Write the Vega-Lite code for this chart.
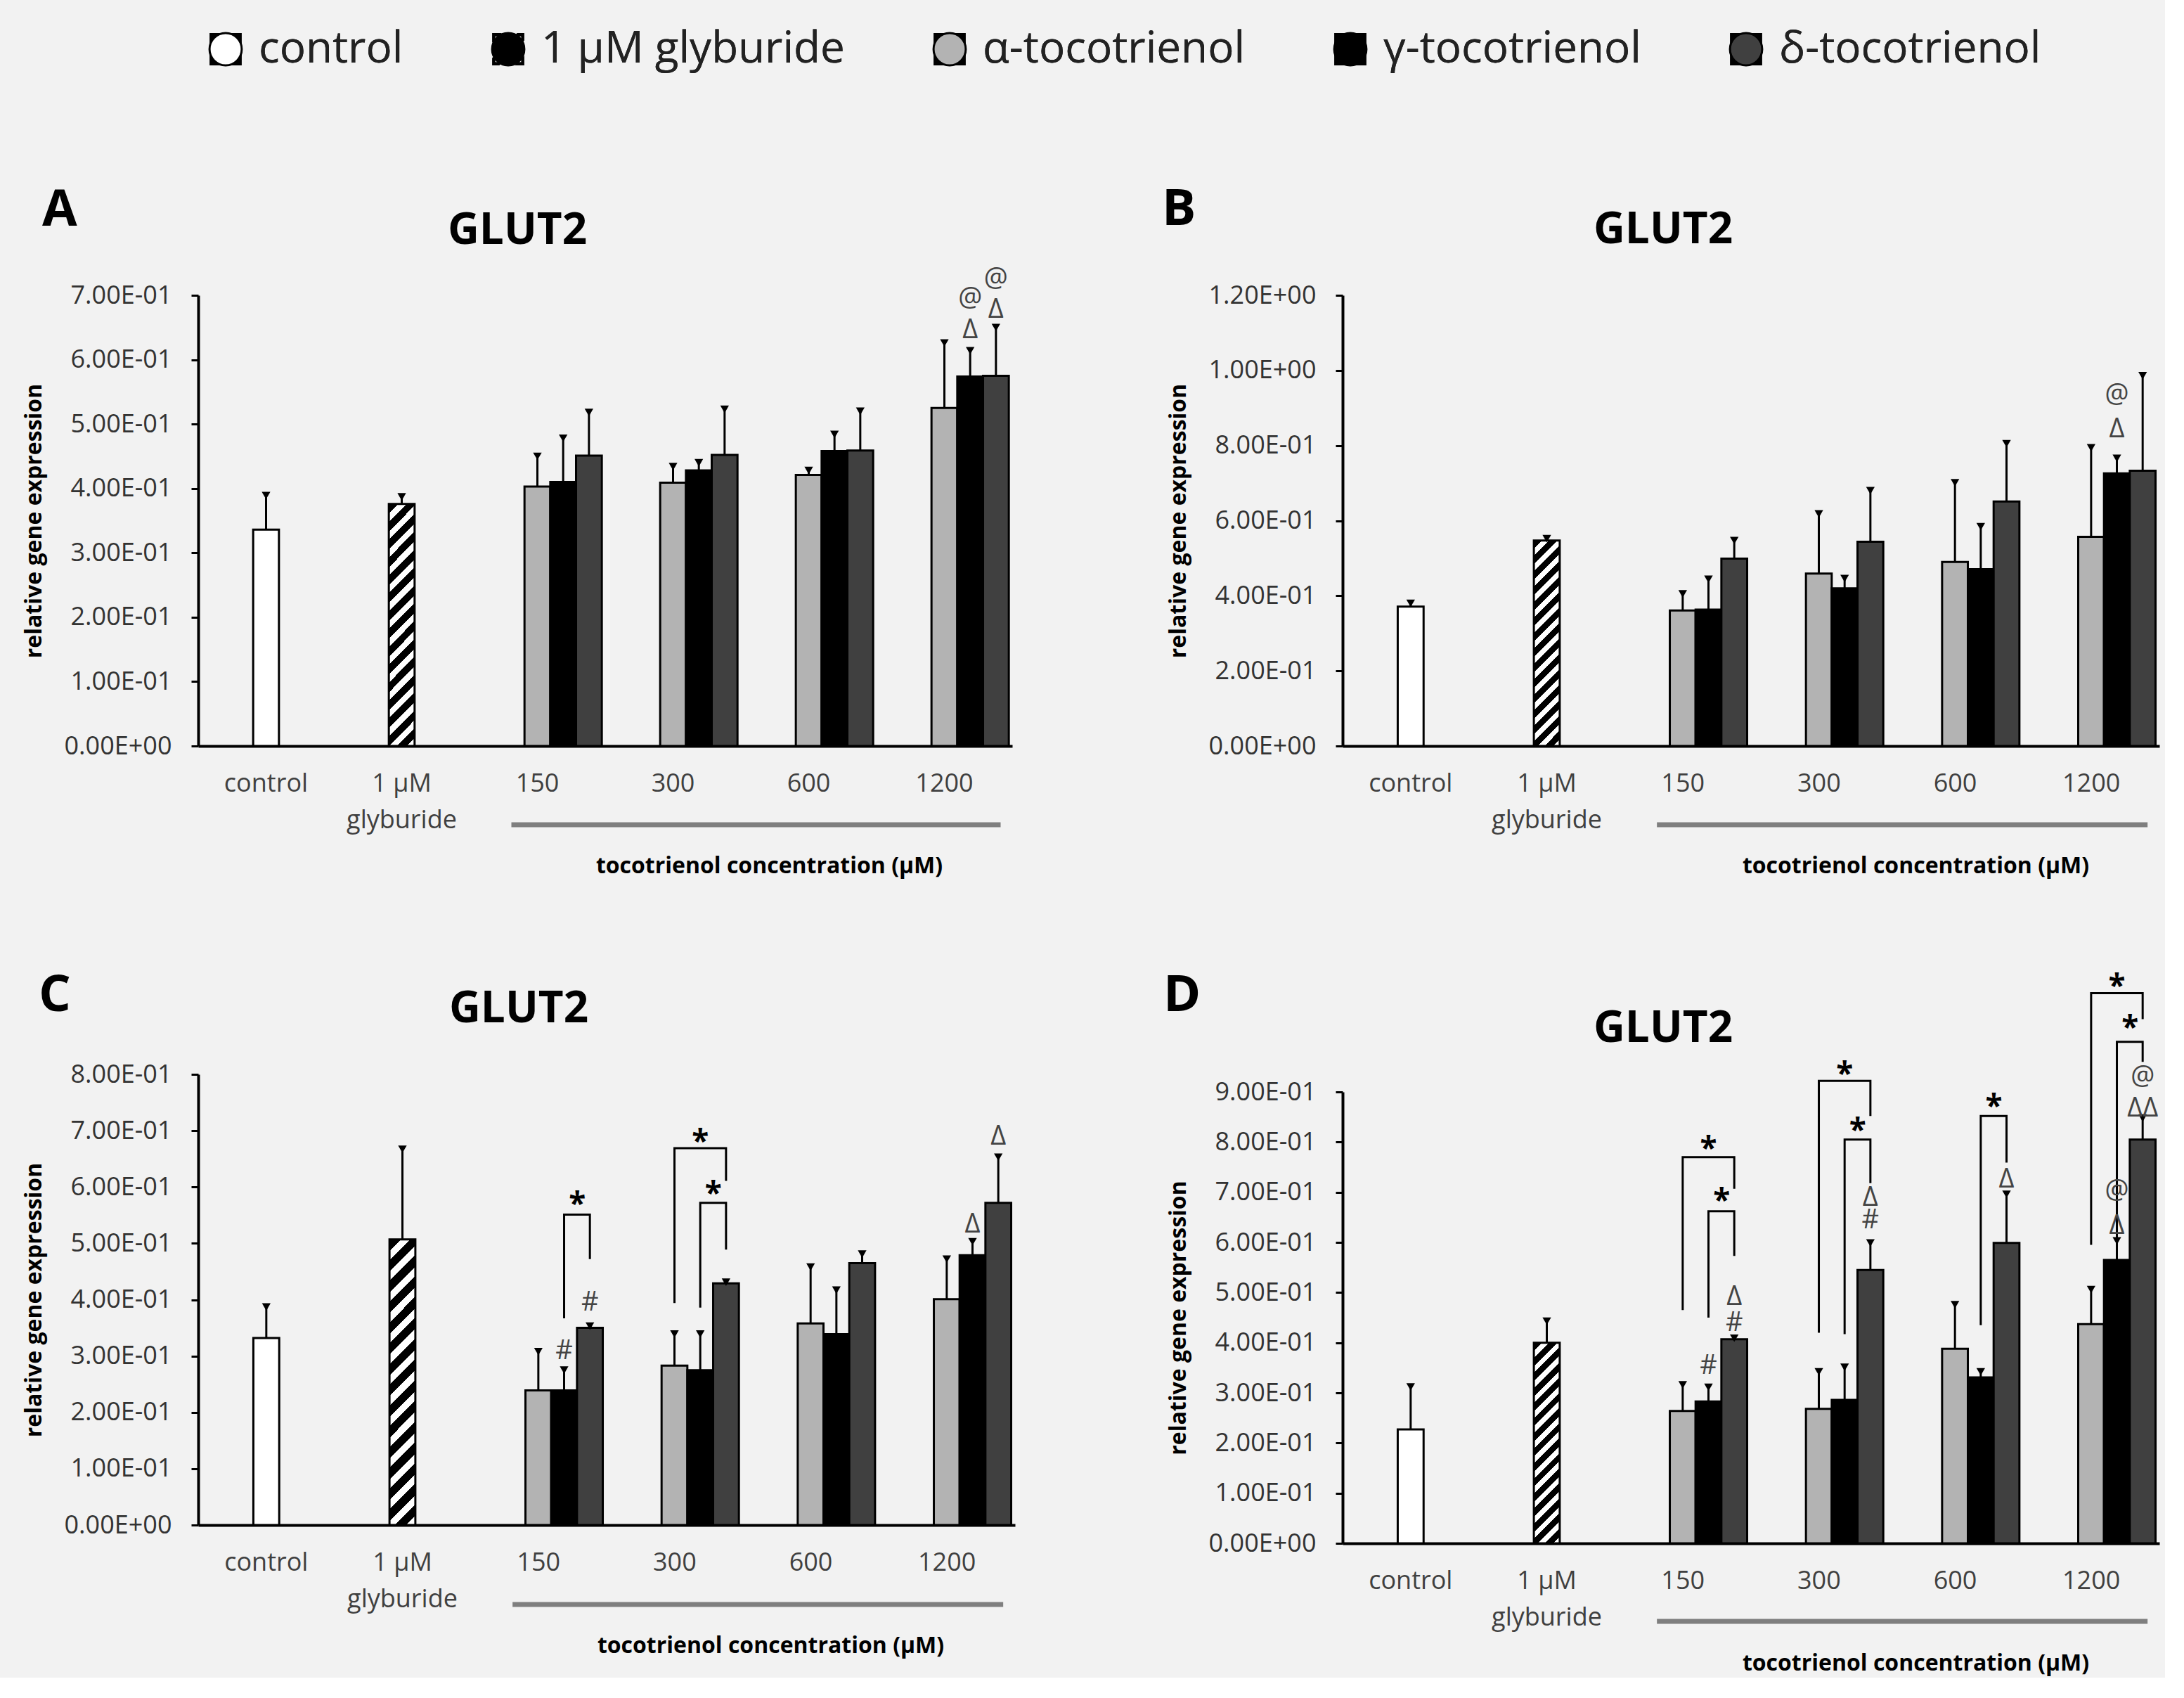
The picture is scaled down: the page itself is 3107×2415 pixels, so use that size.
{
"$schema": "https://vega.github.io/schema/vega-lite/v6.json",
"background": "#f2f2f2",
"padding": {"left": 32, "top": 39, "right": 8, "bottom": 5},
"config": {
  "font": "Open Sans",
  "view": {"stroke": null},
  "title": {"font": "Open Sans", "fontWeight": "bold", "color": "black"},
  "axisX": {"domainColor": "black", "domainWidth": 4, "ticks": false, "labelAngle": 0, "labelFont": "Open Sans", "labelFontSize": 36, "labelColor": "#404040", "labelPadding": 36, "labelLineHeight": 52, "titleFont": "Open Sans", "titleFontSize": 32, "titleFontWeight": "bold", "titleColor": "black", "grid": false},
  "axisY": {"domainColor": "black", "domainWidth": 4, "ticks": true, "tickColor": "black", "tickWidth": 3, "tickSize": 10, "labelFont": "Open Sans", "labelFontSize": 36, "labelColor": "#333333", "labelPadding": 28, "titleFont": "Open Sans", "titleFontSize": 32, "titleFontWeight": "bold", "titleColor": "black", "titlePadding": 26, "grid": false}
},
"datasets": {
  "bars": [
    {"panel":"A","cat":"control","series":"control","v":0.336,"e":0.389},
    {"panel":"A","cat":"1 µM glyburide","series":"1 µM glyburide","v":0.376,"e":0.387},
    {"panel":"A","cat":"150","series":"α-tocotrienol","v":0.403,"e":0.450},
    {"panel":"A","cat":"150","series":"γ-tocotrienol","v":0.410,"e":0.478},
    {"panel":"A","cat":"150","series":"δ-tocotrienol","v":0.451,"e":0.518},
    {"panel":"A","cat":"300","series":"α-tocotrienol","v":0.409,"e":0.434},
    {"panel":"A","cat":"300","series":"γ-tocotrienol","v":0.428,"e":0.440},
    {"panel":"A","cat":"300","series":"δ-tocotrienol","v":0.452,"e":0.523},
    {"panel":"A","cat":"600","series":"α-tocotrienol","v":0.421,"e":0.428},
    {"panel":"A","cat":"600","series":"γ-tocotrienol","v":0.458,"e":0.484},
    {"panel":"A","cat":"600","series":"δ-tocotrienol","v":0.459,"e":0.520},
    {"panel":"A","cat":"1200","series":"α-tocotrienol","v":0.525,"e":0.626},
    {"panel":"A","cat":"1200","series":"γ-tocotrienol","v":0.574,"e":0.614},
    {"panel":"A","cat":"1200","series":"δ-tocotrienol","v":0.575,"e":0.650},
    {"panel":"B","cat":"control","series":"control","v":0.371,"e":0.380},
    {"panel":"B","cat":"1 µM glyburide","series":"1 µM glyburide","v":0.547,"e":0.552},
    {"panel":"B","cat":"150","series":"α-tocotrienol","v":0.361,"e":0.405},
    {"panel":"B","cat":"150","series":"γ-tocotrienol","v":0.363,"e":0.444},
    {"panel":"B","cat":"150","series":"δ-tocotrienol","v":0.499,"e":0.547},
    {"panel":"B","cat":"300","series":"α-tocotrienol","v":0.459,"e":0.618},
    {"panel":"B","cat":"300","series":"γ-tocotrienol","v":0.420,"e":0.446},
    {"panel":"B","cat":"300","series":"δ-tocotrienol","v":0.544,"e":0.680},
    {"panel":"B","cat":"600","series":"α-tocotrienol","v":0.490,"e":0.701},
    {"panel":"B","cat":"600","series":"γ-tocotrienol","v":0.471,"e":0.584},
    {"panel":"B","cat":"600","series":"δ-tocotrienol","v":0.651,"e":0.805},
    {"panel":"B","cat":"1200","series":"α-tocotrienol","v":0.557,"e":0.794},
    {"panel":"B","cat":"1200","series":"γ-tocotrienol","v":0.726,"e":0.766},
    {"panel":"B","cat":"1200","series":"δ-tocotrienol","v":0.733,"e":0.986},
    {"panel":"C","cat":"control","series":"control","v":0.332,"e":0.387},
    {"panel":"C","cat":"1 µM glyburide","series":"1 µM glyburide","v":0.507,"e":0.667},
    {"panel":"C","cat":"150","series":"α-tocotrienol","v":0.239,"e":0.308},
    {"panel":"C","cat":"150","series":"γ-tocotrienol","v":0.239,"e":0.275},
    {"panel":"C","cat":"150","series":"δ-tocotrienol","v":0.350,"e":0.353},
    {"panel":"C","cat":"300","series":"α-tocotrienol","v":0.283,"e":0.339},
    {"panel":"C","cat":"300","series":"γ-tocotrienol","v":0.275,"e":0.339},
    {"panel":"C","cat":"300","series":"δ-tocotrienol","v":0.429,"e":0.431},
    {"panel":"C","cat":"600","series":"α-tocotrienol","v":0.358,"e":0.458},
    {"panel":"C","cat":"600","series":"γ-tocotrienol","v":0.339,"e":0.417},
    {"panel":"C","cat":"600","series":"δ-tocotrienol","v":0.465,"e":0.481},
    {"panel":"C","cat":"1200","series":"α-tocotrienol","v":0.401,"e":0.472},
    {"panel":"C","cat":"1200","series":"γ-tocotrienol","v":0.479,"e":0.503},
    {"panel":"C","cat":"1200","series":"δ-tocotrienol","v":0.572,"e":0.653},
    {"panel":"D","cat":"control","series":"control","v":0.227,"e":0.312},
    {"panel":"D","cat":"1 µM glyburide","series":"1 µM glyburide","v":0.400,"e":0.443},
    {"panel":"D","cat":"150","series":"α-tocotrienol","v":0.264,"e":0.316},
    {"panel":"D","cat":"150","series":"γ-tocotrienol","v":0.283,"e":0.311},
    {"panel":"D","cat":"150","series":"δ-tocotrienol","v":0.407,"e":0.409},
    {"panel":"D","cat":"300","series":"α-tocotrienol","v":0.268,"e":0.342},
    {"panel":"D","cat":"300","series":"γ-tocotrienol","v":0.286,"e":0.351},
    {"panel":"D","cat":"300","series":"δ-tocotrienol","v":0.545,"e":0.599},
    {"panel":"D","cat":"600","series":"α-tocotrienol","v":0.388,"e":0.476},
    {"panel":"D","cat":"600","series":"γ-tocotrienol","v":0.331,"e":0.342},
    {"panel":"D","cat":"600","series":"δ-tocotrienol","v":0.599,"e":0.696},
    {"panel":"D","cat":"1200","series":"α-tocotrienol","v":0.437,"e":0.506},
    {"panel":"D","cat":"1200","series":"γ-tocotrienol","v":0.565,"e":0.603},
    {"panel":"D","cat":"1200","series":"δ-tocotrienol","v":0.805,"e":0.848}
  ],
  "ann": [
    {"panel":"A","cat":"1200","series":"γ-tocotrienol","y":0.645,"t":"Δ"},
    {"panel":"A","cat":"1200","series":"γ-tocotrienol","y":0.694,"t":"@"},
    {"panel":"A","cat":"1200","series":"δ-tocotrienol","y":0.677,"t":"Δ"},
    {"panel":"A","cat":"1200","series":"δ-tocotrienol","y":0.725,"t":"@"},
    {"panel":"B","cat":"1200","series":"γ-tocotrienol","y":0.843,"t":"Δ"},
    {"panel":"B","cat":"1200","series":"γ-tocotrienol","y":0.935,"t":"@"},
    {"panel":"C","cat":"150","series":"γ-tocotrienol","y":0.308,"t":"#"},
    {"panel":"C","cat":"150","series":"δ-tocotrienol","y":0.394,"t":"#"},
    {"panel":"C","cat":"1200","series":"γ-tocotrienol","y":0.533,"t":"Δ"},
    {"panel":"C","cat":"1200","series":"δ-tocotrienol","y":0.689,"t":"Δ"},
    {"panel":"D","cat":"150","series":"γ-tocotrienol","y":0.353,"t":"#"},
    {"panel":"D","cat":"150","series":"δ-tocotrienol","y":0.439,"t":"#"},
    {"panel":"D","cat":"150","series":"δ-tocotrienol","y":0.491,"t":"Δ"},
    {"panel":"D","cat":"300","series":"δ-tocotrienol","y":0.643,"t":"#"},
    {"panel":"D","cat":"300","series":"δ-tocotrienol","y":0.688,"t":"Δ"},
    {"panel":"D","cat":"600","series":"δ-tocotrienol","y":0.725,"t":"Δ"},
    {"panel":"D","cat":"1200","series":"γ-tocotrienol","y":0.632,"t":"Δ"},
    {"panel":"D","cat":"1200","series":"γ-tocotrienol","y":0.703,"t":"@"},
    {"panel":"D","cat":"1200","series":"δ-tocotrienol","y":0.867,"t":"ΔΔ"},
    {"panel":"D","cat":"1200","series":"δ-tocotrienol","y":0.930,"t":"@"}
  ],
  "brk": [
    {"panel":"C","id":"c1","cat":"150","series":"γ-tocotrienol","y":0.367,"ord":1},
    {"panel":"C","id":"c1","cat":"150","series":"γ-tocotrienol","y":0.551,"ord":2},
    {"panel":"C","id":"c1","cat":"150","series":"δ-tocotrienol","y":0.551,"ord":3},
    {"panel":"C","id":"c1","cat":"150","series":"δ-tocotrienol","y":0.472,"ord":4},
    {"panel":"C","id":"c2","cat":"300","series":"α-tocotrienol","y":0.394,"ord":1},
    {"panel":"C","id":"c2","cat":"300","series":"α-tocotrienol","y":0.669,"ord":2},
    {"panel":"C","id":"c2","cat":"300","series":"δ-tocotrienol","y":0.669,"ord":3},
    {"panel":"C","id":"c2","cat":"300","series":"δ-tocotrienol","y":0.611,"ord":4},
    {"panel":"C","id":"c3","cat":"300","series":"γ-tocotrienol","y":0.386,"ord":1},
    {"panel":"C","id":"c3","cat":"300","series":"γ-tocotrienol","y":0.572,"ord":2},
    {"panel":"C","id":"c3","cat":"300","series":"δ-tocotrienol","y":0.572,"ord":3},
    {"panel":"C","id":"c3","cat":"300","series":"δ-tocotrienol","y":0.489,"ord":4},
    {"panel":"D","id":"d1","cat":"150","series":"α-tocotrienol","y":0.465,"ord":1},
    {"panel":"D","id":"d1","cat":"150","series":"α-tocotrienol","y":0.770,"ord":2},
    {"panel":"D","id":"d1","cat":"150","series":"δ-tocotrienol","y":0.770,"ord":3},
    {"panel":"D","id":"d1","cat":"150","series":"δ-tocotrienol","y":0.707,"ord":4},
    {"panel":"D","id":"d2","cat":"150","series":"γ-tocotrienol","y":0.450,"ord":1},
    {"panel":"D","id":"d2","cat":"150","series":"γ-tocotrienol","y":0.662,"ord":2},
    {"panel":"D","id":"d2","cat":"150","series":"δ-tocotrienol","y":0.662,"ord":3},
    {"panel":"D","id":"d2","cat":"150","series":"δ-tocotrienol","y":0.573,"ord":4},
    {"panel":"D","id":"d3","cat":"300","series":"α-tocotrienol","y":0.420,"ord":1},
    {"panel":"D","id":"d3","cat":"300","series":"α-tocotrienol","y":0.922,"ord":2},
    {"panel":"D","id":"d3","cat":"300","series":"δ-tocotrienol","y":0.922,"ord":3},
    {"panel":"D","id":"d3","cat":"300","series":"δ-tocotrienol","y":0.852,"ord":4},
    {"panel":"D","id":"d4","cat":"300","series":"γ-tocotrienol","y":0.417,"ord":1},
    {"panel":"D","id":"d4","cat":"300","series":"γ-tocotrienol","y":0.805,"ord":2},
    {"panel":"D","id":"d4","cat":"300","series":"δ-tocotrienol","y":0.805,"ord":3},
    {"panel":"D","id":"d4","cat":"300","series":"δ-tocotrienol","y":0.718,"ord":4},
    {"panel":"D","id":"d5","cat":"600","series":"γ-tocotrienol","y":0.435,"ord":1},
    {"panel":"D","id":"d5","cat":"600","series":"γ-tocotrienol","y":0.852,"ord":2},
    {"panel":"D","id":"d5","cat":"600","series":"δ-tocotrienol","y":0.852,"ord":3},
    {"panel":"D","id":"d5","cat":"600","series":"δ-tocotrienol","y":0.759,"ord":4},
    {"panel":"D","id":"d6","cat":"1200","series":"α-tocotrienol","y":0.595,"ord":1},
    {"panel":"D","id":"d6","cat":"1200","series":"α-tocotrienol","y":1.097,"ord":2},
    {"panel":"D","id":"d6","cat":"1200","series":"δ-tocotrienol","y":1.097,"ord":3},
    {"panel":"D","id":"d6","cat":"1200","series":"δ-tocotrienol","y":1.045,"ord":4},
    {"panel":"D","id":"d7","cat":"1200","series":"γ-tocotrienol","y":0.591,"ord":1},
    {"panel":"D","id":"d7","cat":"1200","series":"γ-tocotrienol","y":1.000,"ord":2},
    {"panel":"D","id":"d7","cat":"1200","series":"δ-tocotrienol","y":1.000,"ord":3},
    {"panel":"D","id":"d7","cat":"1200","series":"δ-tocotrienol","y":0.960,"ord":4}
  ],
  "star": [
    {"panel":"C","cat":"150","pair":"γδ","y":0.578},
    {"panel":"C","cat":"300","pair":"αδ","y":0.689},
    {"panel":"C","cat":"300","pair":"γδ","y":0.596},
    {"panel":"D","cat":"150","pair":"αδ","y":0.796},
    {"panel":"D","cat":"150","pair":"γδ","y":0.692},
    {"panel":"D","cat":"300","pair":"αδ","y":0.945},
    {"panel":"D","cat":"300","pair":"γδ","y":0.833},
    {"panel":"D","cat":"600","pair":"γδ","y":0.881},
    {"panel":"D","cat":"1200","pair":"αδ","y":1.12},
    {"panel":"D","cat":"1200","pair":"γδ","y":1.038}
  ],
  "span": [{"from":"150","to":"1200"}]
},
"spacing": 222,
"vconcat": [
  {
    "width": 1, "height": 1,
    "data": {"name": "bars"},
    "transform": [{"filter": "datum.panel === 'A'"}],
    "mark": {"type": "point", "opacity": 0, "size": 1},
    "encoding": {
      "fill": {"field": "series", "type": "nominal",
        "scale": {"domain": ["control","1 µM glyburide","α-tocotrienol","γ-tocotrienol","δ-tocotrienol"], "range": ["white","black","#b3b3b3","black","#404040"]},
        "legend": {"orient": "none", "legendX": 8, "legendY": 0, "direction": "horizontal", "title": null,
          "symbolSize": 2100, "symbolStrokeColor": "black", "symbolStrokeWidth": 3, "symbolOpacity": 1,
          "labelFont": "Open Sans", "labelFontSize": 62, "labelColor": "#222222", "labelLimit": 1000, "labelOffset": 16, "columnPadding": 118}
      },
      "shape": {"field": "series", "type": "nominal",
        "scale": {"domain": ["control","1 µM glyburide","α-tocotrienol","γ-tocotrienol","δ-tocotrienol"],
                  "range": ["M-1,-1H1V1H-1Z", "M-1,-1H1V1H-1Z M-0.8,-0.8V0.8H0.8V-0.8Z M-1,-0.4L-1,0.55L0.55,-1L-0.4,-1Z M1,0.4L1,-0.55L-0.55,1L0.4,1Z", "M-1,-1H1V1H-1Z", "M-1,-1H1V1H-1Z", "M-1,-1H1V1H-1Z"]},
        "legend": {"orient": "none", "legendX": 8, "legendY": 0, "direction": "horizontal", "title": null,
          "symbolSize": 2100, "symbolStrokeColor": "black", "symbolStrokeWidth": 3, "symbolOpacity": 1,
          "labelFont": "Open Sans", "labelFontSize": 62, "labelColor": "#222222", "labelLimit": 1000, "labelOffset": 16, "columnPadding": 118}
      }
    }
  },
  {
    "spacing": 209,
    "hconcat": [
      {
        "spacing": 133,
        "vconcat": [
          {
            "title": {"text": "A", "anchor": "start", "frame": "bounds", "fontSize": 72, "offset": -39, "dx": 28},
            "vconcat": [{
              "width": 1158, "height": 641,
              "title": {"text": "GLUT2", "anchor": "middle", "frame": "bounds", "fontSize": 62, "offset": 18},
              "layer": [
                {"data": {"name": "bars"}, "transform": [{"filter": "datum.panel === 'A' && datum.series === 'control'"}],
                 "mark": {"type": "bar", "fill": "white", "stroke": "black", "strokeWidth": 3, "width": {"band": 0.2}},
                 "encoding": {
                   "x": {"field": "cat", "type": "nominal", "scale": {"domain": ["control","1 µM glyburide","150","300","600","1200"], "paddingInner": 0.05, "paddingOuter": 0.025},
                         "axis": {"labelExpr": "datum.value === '1 µM glyburide' ? ['1 µM', 'glyburide'] : datum.value", "titleX": 812, "titleY": 170, "titleBaseline": "middle", "titleAlign": "center"},
                         "title": "tocotrienol concentration (µM)"},
                   "y": {"field": "v", "type": "quantitative", "scale": {"domain": [0, 0.7], "nice": false},
                         "axis": {"values": [0,0.1,0.2,0.3,0.4,0.5,0.6,0.7], "labelExpr": "datum.value == 0 ? '0.00E+00' : datum.value < 0.999 ? format(datum.value * 10, '.2f') + 'E-01' : format(datum.value, '.2f') + 'E+00'"},
                         "title": "relative gene expression"}
                 }},
                {"data": {"name": "bars"}, "transform": [{"filter": "datum.panel === 'A' && datum.series === '1 µM glyburide'"}],
                 "mark": {"type": "bar", "stroke": "black", "strokeWidth": 3, "width": {"band": 0.2},
                   "fill": {"gradient": "linear", "x1": 0, "y1": 0, "x2": 0.1178, "y2": 1.0949, "stops": [
{"offset":0,"color":"black"},{"offset":0.0367,"color":"black"},{"offset":0.0367,"color":"white"},{"offset":0.0667,"color":"white"},
{"offset":0.0667,"color":"black"},{"offset":0.1033,"color":"black"},{"offset":0.1033,"color":"white"},{"offset":0.1333,"color":"white"},
{"offset":0.1333,"color":"black"},{"offset":0.17,"color":"black"},{"offset":0.17,"color":"white"},{"offset":0.2,"color":"white"},
{"offset":0.2,"color":"black"},{"offset":0.2367,"color":"black"},{"offset":0.2367,"color":"white"},{"offset":0.2667,"color":"white"},
{"offset":0.2667,"color":"black"},{"offset":0.3033,"color":"black"},{"offset":0.3033,"color":"white"},{"offset":0.3333,"color":"white"},
{"offset":0.3333,"color":"black"},{"offset":0.37,"color":"black"},{"offset":0.37,"color":"white"},{"offset":0.4,"color":"white"},
{"offset":0.4,"color":"black"},{"offset":0.4367,"color":"black"},{"offset":0.4367,"color":"white"},{"offset":0.4667,"color":"white"},
{"offset":0.4667,"color":"black"},{"offset":0.5033,"color":"black"},{"offset":0.5033,"color":"white"},{"offset":0.5333,"color":"white"},
{"offset":0.5333,"color":"black"},{"offset":0.57,"color":"black"},{"offset":0.57,"color":"white"},{"offset":0.6,"color":"white"},
{"offset":0.6,"color":"black"},{"offset":0.6367,"color":"black"},{"offset":0.6367,"color":"white"},{"offset":0.6667,"color":"white"},
{"offset":0.6667,"color":"black"},{"offset":0.7033,"color":"black"},{"offset":0.7033,"color":"white"},{"offset":0.7333,"color":"white"},
{"offset":0.7333,"color":"black"},{"offset":0.77,"color":"black"},{"offset":0.77,"color":"white"},{"offset":0.8,"color":"white"},
{"offset":0.8,"color":"black"},{"offset":0.8367,"color":"black"},{"offset":0.8367,"color":"white"},{"offset":0.8667,"color":"white"},
{"offset":0.8667,"color":"black"},{"offset":0.9033,"color":"black"},{"offset":0.9033,"color":"white"},{"offset":0.9333,"color":"white"},
{"offset":0.9333,"color":"black"},{"offset":0.97,"color":"black"},{"offset":0.97,"color":"white"},{"offset":1,"color":"white"}]}},
                 "encoding": {"x": {"field": "cat", "type": "nominal"}, "y": {"field": "v", "type": "quantitative"}}},
                {"data": {"name": "bars"}, "transform": [{"filter": "datum.panel === 'A' && datum.series !== 'control' && datum.series !== '1 µM glyburide'"}],
                 "mark": {"type": "bar", "stroke": "black", "strokeWidth": 3},
                 "encoding": {
                   "x": {"field": "cat", "type": "nominal"},
                   "xOffset": {"field": "series", "type": "nominal", "scale": {"domain": ["α-tocotrienol","γ-tocotrienol","δ-tocotrienol"], "paddingInner": 0, "paddingOuter": 1, "align": 1}},
                   "y": {"field": "v", "type": "quantitative"},
                   "fill": {"field": "series", "type": "nominal", "scale": {"domain": ["α-tocotrienol","γ-tocotrienol","δ-tocotrienol"], "range": ["#b3b3b3","#000000","#404040"]}, "legend": null}
                 }},
                {"data": {"name": "bars"}, "transform": [{"filter": "datum.panel === 'A' && (datum.series === 'control' || datum.series === '1 µM glyburide')"}],
                 "mark": {"type": "rule", "color": "black", "strokeWidth": 3},
                 "encoding": {"x": {"field": "cat", "type": "nominal"}, "y": {"field": "v", "type": "quantitative"}, "y2": {"field": "e"}}},
                {"data": {"name": "bars"}, "transform": [{"filter": "datum.panel === 'A' && (datum.series === 'control' || datum.series === '1 µM glyburide')"}],
                 "mark": {"type": "point", "shape": "triangle-down", "filled": true, "color": "black", "size": 150, "opacity": 1},
                 "encoding": {"x": {"field": "cat", "type": "nominal"}, "y": {"field": "e", "type": "quantitative"}}},
                {"data": {"name": "bars"}, "transform": [{"filter": "datum.panel === 'A' && datum.series !== 'control' && datum.series !== '1 µM glyburide'"}],
                 "mark": {"type": "rule", "color": "black", "strokeWidth": 3},
                 "encoding": {"x": {"field": "cat", "type": "nominal"}, "xOffset": {"field": "series", "type": "nominal"}, "y": {"field": "v", "type": "quantitative"}, "y2": {"field": "e"}}},
                {"data": {"name": "bars"}, "transform": [{"filter": "datum.panel === 'A' && datum.series !== 'control' && datum.series !== '1 µM glyburide'"}],
                 "mark": {"type": "point", "shape": "triangle-down", "filled": true, "color": "black", "size": 150, "opacity": 1},
                 "encoding": {"x": {"field": "cat", "type": "nominal"}, "xOffset": {"field": "series", "type": "nominal"}, "y": {"field": "e", "type": "quantitative"}}},
                {"data": {"name": "ann"}, "transform": [{"filter": "datum.panel === 'A'"}],
                 "mark": {"type": "text", "fontSize": 38, "color": "#444444", "baseline": "middle"},
                 "encoding": {"x": {"field": "cat", "type": "nominal"}, "xOffset": {"field": "series", "type": "nominal"}, "y": {"field": "y", "type": "quantitative"}, "text": {"field": "t"}}},
                {"data": {"name": "span"},
                 "mark": {"type": "rule", "color": "#7f7f7f", "strokeWidth": 7, "xOffset": -37, "x2Offset": 80},
                 "encoding": {"x": {"field": "from", "type": "nominal"}, "x2": {"field": "to"}, "y": {"datum": -0.1223}}}
              ]
            }]
          },
          {
            "title": {"text": "C", "anchor": "start", "frame": "bounds", "fontSize": 72, "offset": -49, "dx": 23},
            "vconcat": [{
              "width": 1162, "height": 641,
              "title": {"text": "GLUT2", "anchor": "middle", "frame": "bounds", "fontSize": 62, "offset": 43},
              "layer": [
                {"data": {"name": "bars"}, "transform": [{"filter": "datum.panel === 'C' && datum.series === 'control'"}],
                 "mark": {"type": "bar", "fill": "white", "stroke": "black", "strokeWidth": 3, "width": {"band": 0.2}},
                 "encoding": {
                   "x": {"field": "cat", "type": "nominal", "scale": {"domain": ["control","1 µM glyburide","150","300","600","1200"], "paddingInner": 0.05, "paddingOuter": 0.025},
                         "axis": {"labelExpr": "datum.value === '1 µM glyburide' ? ['1 µM', 'glyburide'] : datum.value", "titleX": 814, "titleY": 171, "titleBaseline": "middle", "titleAlign": "center"},
                         "title": "tocotrienol concentration (µM)"},
                   "y": {"field": "v", "type": "quantitative", "scale": {"domain": [0, 0.8], "nice": false},
                         "axis": {"values": [0,0.1,0.2,0.3,0.4,0.5,0.6,0.7,0.8], "labelExpr": "datum.value == 0 ? '0.00E+00' : datum.value < 0.999 ? format(datum.value * 10, '.2f') + 'E-01' : format(datum.value, '.2f') + 'E+00'"},
                         "title": "relative gene expression"}
                 }},
                {"data": {"name": "bars"}, "transform": [{"filter": "datum.panel === 'C' && datum.series === '1 µM glyburide'"}],
                 "mark": {"type": "bar", "stroke": "black", "strokeWidth": 3, "width": {"band": 0.2},
                   "fill": {"gradient": "linear", "x1": 0, "y1": 0, "x2": 0.0983, "y2": 1.082, "stops": [
{"offset":0,"color":"black"},{"offset":0.0367,"color":"black"},{"offset":0.0367,"color":"white"},{"offset":0.0667,"color":"white"},
{"offset":0.0667,"color":"black"},{"offset":0.1033,"color":"black"},{"offset":0.1033,"color":"white"},{"offset":0.1333,"color":"white"},
{"offset":0.1333,"color":"black"},{"offset":0.17,"color":"black"},{"offset":0.17,"color":"white"},{"offset":0.2,"color":"white"},
{"offset":0.2,"color":"black"},{"offset":0.2367,"color":"black"},{"offset":0.2367,"color":"white"},{"offset":0.2667,"color":"white"},
{"offset":0.2667,"color":"black"},{"offset":0.3033,"color":"black"},{"offset":0.3033,"color":"white"},{"offset":0.3333,"color":"white"},
{"offset":0.3333,"color":"black"},{"offset":0.37,"color":"black"},{"offset":0.37,"color":"white"},{"offset":0.4,"color":"white"},
{"offset":0.4,"color":"black"},{"offset":0.4367,"color":"black"},{"offset":0.4367,"color":"white"},{"offset":0.4667,"color":"white"},
{"offset":0.4667,"color":"black"},{"offset":0.5033,"color":"black"},{"offset":0.5033,"color":"white"},{"offset":0.5333,"color":"white"},
{"offset":0.5333,"color":"black"},{"offset":0.57,"color":"black"},{"offset":0.57,"color":"white"},{"offset":0.6,"color":"white"},
{"offset":0.6,"color":"black"},{"offset":0.6367,"color":"black"},{"offset":0.6367,"color":"white"},{"offset":0.6667,"color":"white"},
{"offset":0.6667,"color":"black"},{"offset":0.7033,"color":"black"},{"offset":0.7033,"color":"white"},{"offset":0.7333,"color":"white"},
{"offset":0.7333,"color":"black"},{"offset":0.77,"color":"black"},{"offset":0.77,"color":"white"},{"offset":0.8,"color":"white"},
{"offset":0.8,"color":"black"},{"offset":0.8367,"color":"black"},{"offset":0.8367,"color":"white"},{"offset":0.8667,"color":"white"},
{"offset":0.8667,"color":"black"},{"offset":0.9033,"color":"black"},{"offset":0.9033,"color":"white"},{"offset":0.9333,"color":"white"},
{"offset":0.9333,"color":"black"},{"offset":0.97,"color":"black"},{"offset":0.97,"color":"white"},{"offset":1,"color":"white"}]}},
                 "encoding": {"x": {"field": "cat", "type": "nominal"}, "y": {"field": "v", "type": "quantitative"}}},
                {"data": {"name": "bars"}, "transform": [{"filter": "datum.panel === 'C' && datum.series !== 'control' && datum.series !== '1 µM glyburide'"}],
                 "mark": {"type": "bar", "stroke": "black", "strokeWidth": 3},
                 "encoding": {
                   "x": {"field": "cat", "type": "nominal"},
                   "xOffset": {"field": "series", "type": "nominal", "scale": {"domain": ["α-tocotrienol","γ-tocotrienol","δ-tocotrienol"], "paddingInner": 0, "paddingOuter": 1, "align": 1}},
                   "y": {"field": "v", "type": "quantitative"},
                   "fill": {"field": "series", "type": "nominal", "scale": {"domain": ["α-tocotrienol","γ-tocotrienol","δ-tocotrienol"], "range": ["#b3b3b3","#000000","#404040"]}, "legend": null}
                 }},
                {"data": {"name": "bars"}, "transform": [{"filter": "datum.panel === 'C' && (datum.series === 'control' || datum.series === '1 µM glyburide')"}],
                 "mark": {"type": "rule", "color": "black", "strokeWidth": 3},
                 "encoding": {"x": {"field": "cat", "type": "nominal"}, "y": {"field": "v", "type": "quantitative"}, "y2": {"field": "e"}}},
                {"data": {"name": "bars"}, "transform": [{"filter": "datum.panel === 'C' && (datum.series === 'control' || datum.series === '1 µM glyburide')"}],
                 "mark": {"type": "point", "shape": "triangle-down", "filled": true, "color": "black", "size": 150, "opacity": 1},
                 "encoding": {"x": {"field": "cat", "type": "nominal"}, "y": {"field": "e", "type": "quantitative"}}},
                {"data": {"name": "bars"}, "transform": [{"filter": "datum.panel === 'C' && datum.series !== 'control' && datum.series !== '1 µM glyburide'"}],
                 "mark": {"type": "rule", "color": "black", "strokeWidth": 3},
                 "encoding": {"x": {"field": "cat", "type": "nominal"}, "xOffset": {"field": "series", "type": "nominal"}, "y": {"field": "v", "type": "quantitative"}, "y2": {"field": "e"}}},
                {"data": {"name": "bars"}, "transform": [{"filter": "datum.panel === 'C' && datum.series !== 'control' && datum.series !== '1 µM glyburide'"}],
                 "mark": {"type": "point", "shape": "triangle-down", "filled": true, "color": "black", "size": 150, "opacity": 1},
                 "encoding": {"x": {"field": "cat", "type": "nominal"}, "xOffset": {"field": "series", "type": "nominal"}, "y": {"field": "e", "type": "quantitative"}}},
                {"data": {"name": "brk"}, "transform": [{"filter": "datum.panel === 'C'"}],
                 "mark": {"type": "line", "color": "black", "strokeWidth": 3, "strokeJoin": "miter"},
                 "encoding": {"x": {"field": "cat", "type": "nominal"}, "xOffset": {"field": "series", "type": "nominal"}, "y": {"field": "y", "type": "quantitative"}, "detail": {"field": "id"}, "order": {"field": "ord", "type": "quantitative"}}},
                {"data": {"name": "ann"}, "transform": [{"filter": "datum.panel === 'C'"}],
                 "mark": {"type": "text", "fontSize": 38, "color": "#444444", "baseline": "middle"},
                 "encoding": {"x": {"field": "cat", "type": "nominal"}, "xOffset": {"field": "series", "type": "nominal"}, "y": {"field": "y", "type": "quantitative"}, "text": {"field": "t"}}},
                {"data": {"name": "star"}, "transform": [{"filter": "datum.panel === 'C' && datum.pair === 'αδ'"}],
                 "mark": {"type": "text", "text": "*", "fontSize": 44, "fontWeight": "bold", "color": "black", "baseline": "middle", "dy": 8},
                 "encoding": {"x": {"field": "cat", "type": "nominal"}, "xOffset": {"datum": "γ-tocotrienol"}, "y": {"field": "y", "type": "quantitative"}}},
                {"data": {"name": "star"}, "transform": [{"filter": "datum.panel === 'C' && datum.pair === 'γδ'"}],
                 "mark": {"type": "text", "text": "*", "fontSize": 44, "fontWeight": "bold", "color": "black", "baseline": "middle", "dy": 8, "dx": -18},
                 "encoding": {"x": {"field": "cat", "type": "nominal"}, "xOffset": {"datum": "δ-tocotrienol"}, "y": {"field": "y", "type": "quantitative"}}},
                {"data": {"name": "span"},
                 "mark": {"type": "rule", "color": "#7f7f7f", "strokeWidth": 7, "xOffset": -37, "x2Offset": 80},
                 "encoding": {"x": {"field": "from", "type": "nominal"}, "x2": {"field": "to"}, "y": {"datum": -0.141}}}
              ]
            }]
          }
        ]
      },
      {
        "spacing": 133,
        "vconcat": [
          {
            "title": {"text": "B", "anchor": "start", "frame": "bounds", "fontSize": 72, "offset": -39, "dx": -7},
            "vconcat": [{
              "width": 1162, "height": 641,
              "title": {"text": "GLUT2", "anchor": "middle", "frame": "bounds", "fontSize": 62, "offset": 43},
              "layer": [
                {"data": {"name": "bars"}, "transform": [{"filter": "datum.panel === 'B' && datum.series === 'control'"}],
                 "mark": {"type": "bar", "fill": "white", "stroke": "black", "strokeWidth": 3, "width": {"band": 0.2}},
                 "encoding": {
                   "x": {"field": "cat", "type": "nominal", "scale": {"domain": ["control","1 µM glyburide","150","300","600","1200"], "paddingInner": 0.05, "paddingOuter": 0.025},
                         "axis": {"labelExpr": "datum.value === '1 µM glyburide' ? ['1 µM', 'glyburide'] : datum.value", "titleX": 815, "titleY": 170, "titleBaseline": "middle", "titleAlign": "center"},
                         "title": "tocotrienol concentration (µM)"},
                   "y": {"field": "v", "type": "quantitative", "scale": {"domain": [0, 1.2], "nice": false},
                         "axis": {"values": [0,0.2,0.4,0.6,0.8,1.0,1.2], "labelExpr": "datum.value == 0 ? '0.00E+00' : datum.value < 0.999 ? format(datum.value * 10, '.2f') + 'E-01' : format(datum.value, '.2f') + 'E+00'"},
                         "title": "relative gene expression"}
                 }},
                {"data": {"name": "bars"}, "transform": [{"filter": "datum.panel === 'B' && datum.series === '1 µM glyburide'"}],
                 "mark": {"type": "bar", "stroke": "black", "strokeWidth": 3, "width": {"band": 0.2},
                   "fill": {"gradient": "linear", "x1": 0, "y1": 0, "x2": 0.1405, "y2": 1.1089, "stops": [
{"offset":0,"color":"black"},{"offset":0.0367,"color":"black"},{"offset":0.0367,"color":"white"},{"offset":0.0667,"color":"white"},
{"offset":0.0667,"color":"black"},{"offset":0.1033,"color":"black"},{"offset":0.1033,"color":"white"},{"offset":0.1333,"color":"white"},
{"offset":0.1333,"color":"black"},{"offset":0.17,"color":"black"},{"offset":0.17,"color":"white"},{"offset":0.2,"color":"white"},
{"offset":0.2,"color":"black"},{"offset":0.2367,"color":"black"},{"offset":0.2367,"color":"white"},{"offset":0.2667,"color":"white"},
{"offset":0.2667,"color":"black"},{"offset":0.3033,"color":"black"},{"offset":0.3033,"color":"white"},{"offset":0.3333,"color":"white"},
{"offset":0.3333,"color":"black"},{"offset":0.37,"color":"black"},{"offset":0.37,"color":"white"},{"offset":0.4,"color":"white"},
{"offset":0.4,"color":"black"},{"offset":0.4367,"color":"black"},{"offset":0.4367,"color":"white"},{"offset":0.4667,"color":"white"},
{"offset":0.4667,"color":"black"},{"offset":0.5033,"color":"black"},{"offset":0.5033,"color":"white"},{"offset":0.5333,"color":"white"},
{"offset":0.5333,"color":"black"},{"offset":0.57,"color":"black"},{"offset":0.57,"color":"white"},{"offset":0.6,"color":"white"},
{"offset":0.6,"color":"black"},{"offset":0.6367,"color":"black"},{"offset":0.6367,"color":"white"},{"offset":0.6667,"color":"white"},
{"offset":0.6667,"color":"black"},{"offset":0.7033,"color":"black"},{"offset":0.7033,"color":"white"},{"offset":0.7333,"color":"white"},
{"offset":0.7333,"color":"black"},{"offset":0.77,"color":"black"},{"offset":0.77,"color":"white"},{"offset":0.8,"color":"white"},
{"offset":0.8,"color":"black"},{"offset":0.8367,"color":"black"},{"offset":0.8367,"color":"white"},{"offset":0.8667,"color":"white"},
{"offset":0.8667,"color":"black"},{"offset":0.9033,"color":"black"},{"offset":0.9033,"color":"white"},{"offset":0.9333,"color":"white"},
{"offset":0.9333,"color":"black"},{"offset":0.97,"color":"black"},{"offset":0.97,"color":"white"},{"offset":1,"color":"white"}]}},
                 "encoding": {"x": {"field": "cat", "type": "nominal"}, "y": {"field": "v", "type": "quantitative"}}},
                {"data": {"name": "bars"}, "transform": [{"filter": "datum.panel === 'B' && datum.series !== 'control' && datum.series !== '1 µM glyburide'"}],
                 "mark": {"type": "bar", "stroke": "black", "strokeWidth": 3},
                 "encoding": {
                   "x": {"field": "cat", "type": "nominal"},
                   "xOffset": {"field": "series", "type": "nominal", "scale": {"domain": ["α-tocotrienol","γ-tocotrienol","δ-tocotrienol"], "paddingInner": 0, "paddingOuter": 1, "align": 1}},
                   "y": {"field": "v", "type": "quantitative"},
                   "fill": {"field": "series", "type": "nominal", "scale": {"domain": ["α-tocotrienol","γ-tocotrienol","δ-tocotrienol"], "range": ["#b3b3b3","#000000","#404040"]}, "legend": null}
                 }},
                {"data": {"name": "bars"}, "transform": [{"filter": "datum.panel === 'B' && (datum.series === 'control' || datum.series === '1 µM glyburide')"}],
                 "mark": {"type": "rule", "color": "black", "strokeWidth": 3},
                 "encoding": {"x": {"field": "cat", "type": "nominal"}, "y": {"field": "v", "type": "quantitative"}, "y2": {"field": "e"}}},
                {"data": {"name": "bars"}, "transform": [{"filter": "datum.panel === 'B' && (datum.series === 'control' || datum.series === '1 µM glyburide')"}],
                 "mark": {"type": "point", "shape": "triangle-down", "filled": true, "color": "black", "size": 150, "opacity": 1},
                 "encoding": {"x": {"field": "cat", "type": "nominal"}, "y": {"field": "e", "type": "quantitative"}}},
                {"data": {"name": "bars"}, "transform": [{"filter": "datum.panel === 'B' && datum.series !== 'control' && datum.series !== '1 µM glyburide'"}],
                 "mark": {"type": "rule", "color": "black", "strokeWidth": 3},
                 "encoding": {"x": {"field": "cat", "type": "nominal"}, "xOffset": {"field": "series", "type": "nominal"}, "y": {"field": "v", "type": "quantitative"}, "y2": {"field": "e"}}},
                {"data": {"name": "bars"}, "transform": [{"filter": "datum.panel === 'B' && datum.series !== 'control' && datum.series !== '1 µM glyburide'"}],
                 "mark": {"type": "point", "shape": "triangle-down", "filled": true, "color": "black", "size": 150, "opacity": 1},
                 "encoding": {"x": {"field": "cat", "type": "nominal"}, "xOffset": {"field": "series", "type": "nominal"}, "y": {"field": "e", "type": "quantitative"}}},
                {"data": {"name": "ann"}, "transform": [{"filter": "datum.panel === 'B'"}],
                 "mark": {"type": "text", "fontSize": 38, "color": "#444444", "baseline": "middle"},
                 "encoding": {"x": {"field": "cat", "type": "nominal"}, "xOffset": {"field": "series", "type": "nominal"}, "y": {"field": "y", "type": "quantitative"}, "text": {"field": "t"}}},
                {"data": {"name": "span"},
                 "mark": {"type": "rule", "color": "#7f7f7f", "strokeWidth": 7, "xOffset": -37, "x2Offset": 80},
                 "encoding": {"x": {"field": "from", "type": "nominal"}, "x2": {"field": "to"}, "y": {"datum": -0.2097}}}
              ]
            }]
          },
          {
            "title": {"text": "D", "anchor": "start", "frame": "bounds", "fontSize": 72, "offset": -71, "dx": -5},
            "vconcat": [{
              "width": 1162, "height": 642,
              "title": {"text": "GLUT2", "anchor": "middle", "frame": "bounds", "fontSize": 62, "offset": -113},
              "layer": [
                {"data": {"name": "bars"}, "transform": [{"filter": "datum.panel === 'D' && datum.series === 'control'"}],
                 "mark": {"type": "bar", "fill": "white", "stroke": "black", "strokeWidth": 3, "width": {"band": 0.2}},
                 "encoding": {
                   "x": {"field": "cat", "type": "nominal", "scale": {"domain": ["control","1 µM glyburide","150","300","600","1200"], "paddingInner": 0.05, "paddingOuter": 0.025},
                         "axis": {"labelExpr": "datum.value === '1 µM glyburide' ? ['1 µM', 'glyburide'] : datum.value", "titleX": 815, "titleY": 170, "titleBaseline": "middle", "titleAlign": "center"},
                         "title": "tocotrienol concentration (µM)"},
                   "y": {"field": "v", "type": "quantitative", "scale": {"domain": [0, 0.9], "nice": false},
                         "axis": {"values": [0,0.1,0.2,0.3,0.4,0.5,0.6,0.7,0.8,0.9], "labelExpr": "datum.value == 0 ? '0.00E+00' : datum.value < 0.999 ? format(datum.value * 10, '.2f') + 'E-01' : format(datum.value, '.2f') + 'E+00'"},
                         "title": "relative gene expression"}
                 }},
                {"data": {"name": "bars"}, "transform": [{"filter": "datum.panel === 'D' && datum.series === '1 µM glyburide'"}],
                 "mark": {"type": "bar", "stroke": "black", "strokeWidth": 3, "width": {"band": 0.2},
                   "fill": {"gradient": "linear", "x1": 0, "y1": 0, "x2": 0.1431, "y2": 1.1104, "stops": [
{"offset":0,"color":"black"},{"offset":0.0367,"color":"black"},{"offset":0.0367,"color":"white"},{"offset":0.0667,"color":"white"},
{"offset":0.0667,"color":"black"},{"offset":0.1033,"color":"black"},{"offset":0.1033,"color":"white"},{"offset":0.1333,"color":"white"},
{"offset":0.1333,"color":"black"},{"offset":0.17,"color":"black"},{"offset":0.17,"color":"white"},{"offset":0.2,"color":"white"},
{"offset":0.2,"color":"black"},{"offset":0.2367,"color":"black"},{"offset":0.2367,"color":"white"},{"offset":0.2667,"color":"white"},
{"offset":0.2667,"color":"black"},{"offset":0.3033,"color":"black"},{"offset":0.3033,"color":"white"},{"offset":0.3333,"color":"white"},
{"offset":0.3333,"color":"black"},{"offset":0.37,"color":"black"},{"offset":0.37,"color":"white"},{"offset":0.4,"color":"white"},
{"offset":0.4,"color":"black"},{"offset":0.4367,"color":"black"},{"offset":0.4367,"color":"white"},{"offset":0.4667,"color":"white"},
{"offset":0.4667,"color":"black"},{"offset":0.5033,"color":"black"},{"offset":0.5033,"color":"white"},{"offset":0.5333,"color":"white"},
{"offset":0.5333,"color":"black"},{"offset":0.57,"color":"black"},{"offset":0.57,"color":"white"},{"offset":0.6,"color":"white"},
{"offset":0.6,"color":"black"},{"offset":0.6367,"color":"black"},{"offset":0.6367,"color":"white"},{"offset":0.6667,"color":"white"},
{"offset":0.6667,"color":"black"},{"offset":0.7033,"color":"black"},{"offset":0.7033,"color":"white"},{"offset":0.7333,"color":"white"},
{"offset":0.7333,"color":"black"},{"offset":0.77,"color":"black"},{"offset":0.77,"color":"white"},{"offset":0.8,"color":"white"},
{"offset":0.8,"color":"black"},{"offset":0.8367,"color":"black"},{"offset":0.8367,"color":"white"},{"offset":0.8667,"color":"white"},
{"offset":0.8667,"color":"black"},{"offset":0.9033,"color":"black"},{"offset":0.9033,"color":"white"},{"offset":0.9333,"color":"white"},
{"offset":0.9333,"color":"black"},{"offset":0.97,"color":"black"},{"offset":0.97,"color":"white"},{"offset":1,"color":"white"}]}},
                 "encoding": {"x": {"field": "cat", "type": "nominal"}, "y": {"field": "v", "type": "quantitative"}}},
                {"data": {"name": "bars"}, "transform": [{"filter": "datum.panel === 'D' && datum.series !== 'control' && datum.series !== '1 µM glyburide'"}],
                 "mark": {"type": "bar", "stroke": "black", "strokeWidth": 3},
                 "encoding": {
                   "x": {"field": "cat", "type": "nominal"},
                   "xOffset": {"field": "series", "type": "nominal", "scale": {"domain": ["α-tocotrienol","γ-tocotrienol","δ-tocotrienol"], "paddingInner": 0, "paddingOuter": 1, "align": 1}},
                   "y": {"field": "v", "type": "quantitative"},
                   "fill": {"field": "series", "type": "nominal", "scale": {"domain": ["α-tocotrienol","γ-tocotrienol","δ-tocotrienol"], "range": ["#b3b3b3","#000000","#404040"]}, "legend": null}
                 }},
                {"data": {"name": "bars"}, "transform": [{"filter": "datum.panel === 'D' && (datum.series === 'control' || datum.series === '1 µM glyburide')"}],
                 "mark": {"type": "rule", "color": "black", "strokeWidth": 3},
                 "encoding": {"x": {"field": "cat", "type": "nominal"}, "y": {"field": "v", "type": "quantitative"}, "y2": {"field": "e"}}},
                {"data": {"name": "bars"}, "transform": [{"filter": "datum.panel === 'D' && (datum.series === 'control' || datum.series === '1 µM glyburide')"}],
                 "mark": {"type": "point", "shape": "triangle-down", "filled": true, "color": "black", "size": 150, "opacity": 1},
                 "encoding": {"x": {"field": "cat", "type": "nominal"}, "y": {"field": "e", "type": "quantitative"}}},
                {"data": {"name": "bars"}, "transform": [{"filter": "datum.panel === 'D' && datum.series !== 'control' && datum.series !== '1 µM glyburide'"}],
                 "mark": {"type": "rule", "color": "black", "strokeWidth": 3},
                 "encoding": {"x": {"field": "cat", "type": "nominal"}, "xOffset": {"field": "series", "type": "nominal"}, "y": {"field": "v", "type": "quantitative"}, "y2": {"field": "e"}}},
                {"data": {"name": "bars"}, "transform": [{"filter": "datum.panel === 'D' && datum.series !== 'control' && datum.series !== '1 µM glyburide'"}],
                 "mark": {"type": "point", "shape": "triangle-down", "filled": true, "color": "black", "size": 150, "opacity": 1},
                 "encoding": {"x": {"field": "cat", "type": "nominal"}, "xOffset": {"field": "series", "type": "nominal"}, "y": {"field": "e", "type": "quantitative"}}},
                {"data": {"name": "brk"}, "transform": [{"filter": "datum.panel === 'D'"}],
                 "mark": {"type": "line", "color": "black", "strokeWidth": 3, "strokeJoin": "miter"},
                 "encoding": {"x": {"field": "cat", "type": "nominal"}, "xOffset": {"field": "series", "type": "nominal"}, "y": {"field": "y", "type": "quantitative"}, "detail": {"field": "id"}, "order": {"field": "ord", "type": "quantitative"}}},
                {"data": {"name": "ann"}, "transform": [{"filter": "datum.panel === 'D'"}],
                 "mark": {"type": "text", "fontSize": 38, "color": "#444444", "baseline": "middle"},
                 "encoding": {"x": {"field": "cat", "type": "nominal"}, "xOffset": {"field": "series", "type": "nominal"}, "y": {"field": "y", "type": "quantitative"}, "text": {"field": "t"}}},
                {"data": {"name": "star"}, "transform": [{"filter": "datum.panel === 'D' && datum.pair === 'αδ'"}],
                 "mark": {"type": "text", "text": "*", "fontSize": 44, "fontWeight": "bold", "color": "black", "baseline": "middle", "dy": 8},
                 "encoding": {"x": {"field": "cat", "type": "nominal"}, "xOffset": {"datum": "γ-tocotrienol"}, "y": {"field": "y", "type": "quantitative"}}},
                {"data": {"name": "star"}, "transform": [{"filter": "datum.panel === 'D' && datum.pair === 'γδ'"}],
                 "mark": {"type": "text", "text": "*", "fontSize": 44, "fontWeight": "bold", "color": "black", "baseline": "middle", "dy": 8, "dx": -18},
                 "encoding": {"x": {"field": "cat", "type": "nominal"}, "xOffset": {"datum": "δ-tocotrienol"}, "y": {"field": "y", "type": "quantitative"}}},
                {"data": {"name": "span"},
                 "mark": {"type": "rule", "color": "#7f7f7f", "strokeWidth": 7, "xOffset": -37, "x2Offset": 80},
                 "encoding": {"x": {"field": "from", "type": "nominal"}, "x2": {"field": "to"}, "y": {"datum": -0.1556}}}
              ]
            }]
          }
        ]
      }
    ]
  }
]
}
